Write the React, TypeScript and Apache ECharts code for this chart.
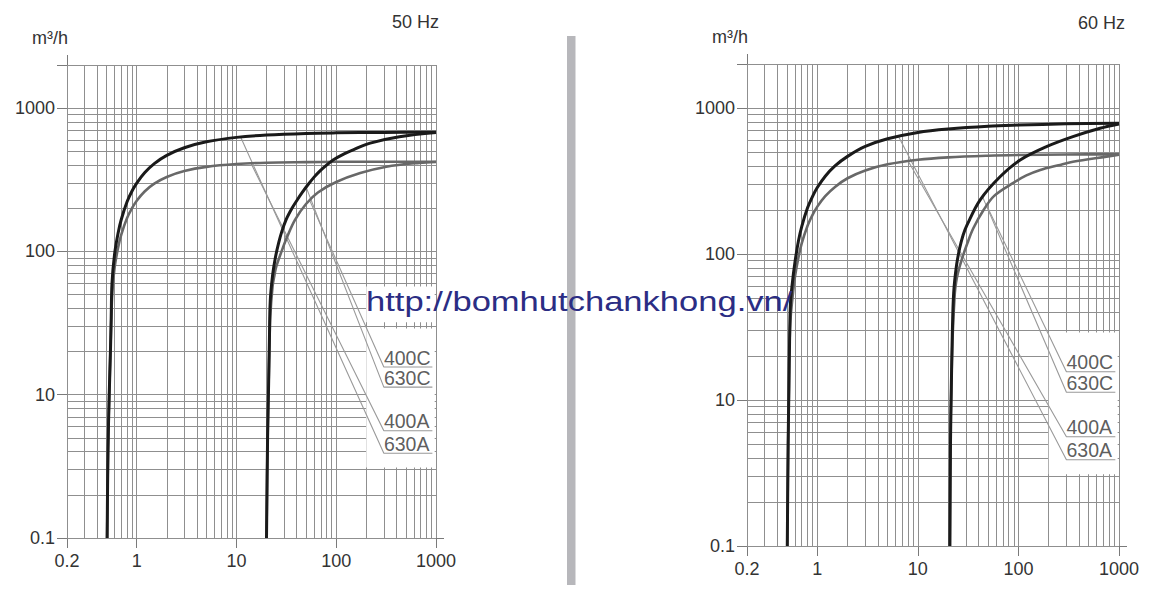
import React, { useEffect, useRef } from "react";
import * as echarts from "echarts";

// ---------- axis ticks / labels ----------
const xTickValues = [0.2, 1, 10, 100, 1000];
const xTickLabels = ["0.2", "1", "10", "100", "1000"];
const yTickValues = [1, 10, 100, 1000];
const yTickLabels = ["0.1", "10", "100", "1000"];
const yTickMarks = [1, 10, 100, 1000, 2000];

// log-paper grid lines
const xGridValues = [
  0.2, 0.3, 0.4, 0.5, 0.6, 0.7, 0.8, 0.9,
  1, 2, 3, 4, 5, 6, 7, 8, 9,
  10, 20, 30, 40, 50, 60, 70, 80, 90,
  100, 200, 300, 400, 500, 600, 700, 800, 900, 1000,
];
const yGridValues = [
  1, 2, 3, 4, 5, 6, 7, 8, 9,
  10, 20, 30, 40, 50, 60, 70, 80, 90,
  100, 200, 300, 400, 500, 600, 700, 800, 900,
  1000, 2000,
];

// ---------- 50 Hz curves ----------
const hz50_630A = [
  [0.505, 1], [0.515, 4], [0.53, 10], [0.545, 20], [0.555, 35], [0.565, 60], [0.6, 96],
  [0.65, 134], [0.7, 167], [0.8, 222], [0.9, 265], [1.0, 300], [1.2, 354], [1.5, 410],
  [2, 468], [3, 529], [5, 582], [10, 625], [20, 649], [50, 666], [100, 672], [300, 677],
  [1000, 679],
];
const hz50_400A = [
  [0.505, 1], [0.515, 4], [0.53, 10], [0.545, 20], [0.555, 32], [0.57, 52], [0.6, 77],
  [0.65, 106], [0.7, 131], [0.8, 171], [0.9, 201], [1.0, 226], [1.2, 262], [1.5, 297],
  [2, 331], [3, 364], [5, 389], [10, 407], [20, 416], [50, 420], [100, 422], [1000, 423],
];
const hz50_630C = [
  [20, 1], [20.5, 5], [21, 12], [21.4, 25], [21.8, 45], [23, 68], [24.5, 90], [26.5, 115],
  [28.5, 138], [31.6, 168], [36, 200], [40, 225], [46, 260], [52, 292], [60, 330], [68, 362],
  [80, 400], [93, 435], [120, 480], [148, 512], [219, 570], [430, 631], [1000, 675],
];
const hz50_400C = [
  [20, 1], [20.5, 5], [21, 12], [21.4, 22], [21.8, 35], [23, 57], [24, 68], [25, 78],
  [28.3, 100], [32, 125], [38.6, 166], [50, 215], [65.5, 258], [100, 305], [174, 352],
  [318, 390], [680, 415], [1000, 421],
];

// ---------- 60 Hz curves ----------
const hz60_630A = [
  [0.503, 1], [0.513, 5], [0.522, 12], [0.53, 25], [0.54, 45], [0.56, 60], [0.6, 88],
  [0.65, 123], [0.7, 154], [0.8, 207], [0.9, 249], [1.0, 285], [1.2, 341], [1.5, 401],
  [2, 466], [3, 545], [5, 615], [10, 680], [20, 718], [50, 750], [100, 763], [300, 778],
  [1000, 785],
];
const hz60_400A = [
  [0.503, 1], [0.513, 5], [0.522, 12], [0.53, 25], [0.545, 38], [0.57, 52], [0.6, 70],
  [0.65, 95], [0.7, 118], [0.8, 156], [0.9, 186], [1.0, 211], [1.2, 249], [1.5, 288],
  [2, 330], [3, 373], [5, 411], [10, 442], [20, 459], [50, 471], [100, 476], [300, 480],
  [1000, 481],
];
const hz60_630C = [
  [20.8, 1], [21.1, 5], [21.5, 12], [22, 28], [22.7, 54], [24.2, 83], [26, 109], [28.2, 135],
  [30.7, 157], [41.5, 234], [66, 339], [104, 440], [190, 543], [348, 636], [648, 726],
  [1000, 777],
];
const hz60_400C = [
  [20.8, 1], [21.1, 5], [21.5, 12], [22.2, 28], [23.3, 54], [24, 64], [25, 74], [27.5, 93],
  [31, 118], [35.6, 150], [45, 200], [57.4, 250], [89.8, 308], [120, 345], [165, 376],
  [250, 405], [348, 428], [750, 464], [1000, 478],
];

// ---------- leader labels ----------
const curveNames = ["400C", "630C", "400A", "630A"];
const labelY = [15.6, 11.3, 5.6, 3.9];
const labelX = [300, 920];
// leader start points on the curves (same order as curveNames)
const hz50_leaderStart = [[54, 228], [50, 280], [14, 410], [11, 628]];
const hz60_leaderStart = [[48.5, 214], [44, 246], [8, 433], [6.4, 640]];
// white label box on the grid (x range, y range)
const boxX = [200, 970];
const boxY = [3.1, 29];
const hz50_extraBoxY = [32, 57];

const FONT = "'Liberation Sans', Arial, Helvetica, sans-serif";
const GRID_COLOR = "#8f8f8f";
const AXIS_COLOR = "#7a7a7a";
const TEXT_COLOR = "#333";

function buildPanel(
  idx: number,
  curves: { name: string; data: number[][]; color: string; width: number }[],
  leaderStart: number[][],
  extraBoxes: number[][]
) {
  const xAxes: any[] = [
    {
      type: "log",
      gridIndex: idx,
      logBase: 10,
      min: 0.2,
      max: 1000,
      axisLine: { show: true, onZero: false, lineStyle: { color: AXIS_COLOR, width: 1 } },
      axisTick: { show: true, length: 10, customValues: xTickValues, lineStyle: { color: AXIS_COLOR } },
      axisLabel: {
        customValues: xTickValues,
        margin: 14,
        fontSize: 18,
        color: TEXT_COLOR,
        fontFamily: FONT,
        formatter: (v: number) => {
          const i = xTickValues.findIndex((t) => Math.abs(t - v) < 1e-9 * Math.max(1, t));
          return i >= 0 ? xTickLabels[i] : "";
        },
      },
      splitLine: { show: false },
    },
    {
      type: "log",
      gridIndex: idx,
      position: "top",
      logBase: 10,
      min: 0.2,
      max: 1000,
      axisLine: { show: false },
      axisTick: { show: true, length: 10, customValues: [0.2], lineStyle: { color: AXIS_COLOR } },
      axisLabel: { show: false },
      splitLine: { show: false },
    },
  ];
  const yAxes: any[] = [
    {
      type: "log",
      gridIndex: idx,
      logBase: 10,
      min: 1,
      max: 2000,
      axisLine: { show: true, onZero: false, lineStyle: { color: AXIS_COLOR, width: 1 } },
      axisTick: { show: true, length: 10, customValues: yTickMarks, lineStyle: { color: AXIS_COLOR } },
      axisLabel: {
        customValues: yTickValues,
        margin: 12,
        fontSize: 18,
        color: TEXT_COLOR,
        fontFamily: FONT,
        formatter: (v: number) => {
          const i = yTickValues.findIndex((t) => Math.abs(t - v) < 1e-9 * Math.max(1, t));
          return i >= 0 ? yTickLabels[i] : "";
        },
      },
      splitLine: { show: false },
    },
    {
      type: "log",
      gridIndex: idx,
      position: "right",
      logBase: 10,
      min: 1,
      max: 2000,
      axisLine: { show: false },
      axisTick: { show: true, length: 8, customValues: [1], lineStyle: { color: AXIS_COLOR } },
      axisLabel: { show: false },
      splitLine: { show: false },
    },
  ];
  const xi = idx * 2;
  const yi = idx * 2;
  const series: any[] = [];
  // grid lines
  series.push({
    type: "line",
    xAxisIndex: xi,
    yAxisIndex: yi,
    data: [],
    silent: true,
    symbol: "none",
    markLine: {
      silent: true,
      z: 1,
      symbol: ["none", "none"],
      label: { show: false },
      emphasis: { disabled: true },
      lineStyle: { color: GRID_COLOR, width: 1, type: "solid" },
      data: [
        ...xGridValues.map((v) => ({ xAxis: v })),
        ...yGridValues.map((v) => ({ yAxis: v })),
      ],
    },
  });
  // white label box(es)
  const boxes = [[boxX[0], boxY[0], boxX[1], boxY[1]], ...extraBoxes.map((b) => [boxX[0], b[0], boxX[1], b[1]])];
  series.push({
    type: "line",
    xAxisIndex: xi,
    yAxisIndex: yi,
    data: [],
    silent: true,
    symbol: "none",
    markArea: {
      silent: true,
      z: 3,
      itemStyle: { color: "#ffffff", opacity: 1, borderWidth: 0 },
      label: { show: false },
      emphasis: { disabled: true },
      data: boxes.map((b) => [{ coord: [b[0], b[1]] }, { coord: [b[2], b[3]] }]),
    },
  });
  // leader lines
  curveNames.forEach((name, i) => {
    series.push({
      type: "line",
      name: "leader-" + name,
      xAxisIndex: xi,
      yAxisIndex: yi,
      z: 8,
      silent: true,
      symbol: "none",
      lineStyle: { color: "#999999", width: 1.1 },
      data: [leaderStart[i], [labelX[0], labelY[i]], [labelX[1], labelY[i]]],
    });
  });
  // labels
  series.push({
    type: "scatter",
    xAxisIndex: xi,
    yAxisIndex: yi,
    z: 12,
    silent: true,
    symbol: "circle",
    symbolSize: 0.1,
    itemStyle: { color: "rgba(0,0,0,0)" },
    label: {
      show: true,
      position: "right",
      distance: 0,
      offset: [0, -9.5],
      formatter: (p: any) => p.name,
      fontSize: 19.5,
      color: "#333333",
      fontFamily: FONT,
    },
    data: curveNames.map((n, i) => ({ name: n, value: [labelX[0], labelY[i]] })),
  });
  // curves
  curves.forEach((c) => {
    series.push({
      type: "line",
      name: c.name,
      xAxisIndex: xi,
      yAxisIndex: yi,
      z: 10,
      silent: true,
      symbol: "none",
      smooth: 0.35,
      lineStyle: { color: c.color, width: c.width },
      data: c.data,
    });
  });
  return { xAxes, yAxes, series };
}

const BLACK = "#1a1a1a";
const GRAY = "#686868";

export default function App() {
  const ref = useRef<HTMLDivElement>(null);
  useEffect(() => {
    if (!ref.current) return;
    const chart = echarts.init(ref.current, undefined, { renderer: "svg" });
    const p50 = buildPanel(
      0,
      [
        { name: "400A", data: hz50_400A, color: GRAY, width: 2.6 },
        { name: "400C", data: hz50_400C, color: GRAY, width: 2.6 },
        { name: "630A", data: hz50_630A, color: BLACK, width: 3 },
        { name: "630C", data: hz50_630C, color: BLACK, width: 3 },
      ],
      hz50_leaderStart,
      [hz50_extraBoxY]
    );
    const p60 = buildPanel(
      1,
      [
        { name: "400A", data: hz60_400A, color: GRAY, width: 2.6 },
        { name: "400C", data: hz60_400C, color: GRAY, width: 2.6 },
        { name: "630A", data: hz60_630A, color: BLACK, width: 3 },
        { name: "630C", data: hz60_630C, color: BLACK, width: 3 },
      ],
      hz60_leaderStart,
      []
    );
    const option: any = {
      animation: false,
      backgroundColor: "#ffffff",
      textStyle: { fontFamily: FONT },
      grid: [
        { left: 67, top: 65, width: 369, height: 473, containLabel: false },
        { left: 747, top: 64, width: 372, height: 482, containLabel: false },
      ],
      xAxis: [...p50.xAxes, ...p60.xAxes],
      yAxis: [...p50.yAxes, ...p60.yAxes],
      series: [...p50.series, ...p60.series],
      graphic: [
        {
          type: "rect",
          silent: true,
          shape: { x: 567, y: 36, width: 8.5, height: 549 },
          style: { fill: "#b7b7bb" },
        },
        {
          type: "text",
          silent: true,
          x: 50,
          y: 37.5,
          style: { text: "m³/h", fontSize: 18, fill: TEXT_COLOR, align: "center", verticalAlign: "middle", fontFamily: FONT },
        },
        {
          type: "text",
          silent: true,
          x: 415.5,
          y: 21.7,
          style: { text: "50 Hz", fontSize: 18, fill: TEXT_COLOR, align: "center", verticalAlign: "middle", fontFamily: FONT },
        },
        {
          type: "text",
          silent: true,
          x: 730,
          y: 37,
          style: { text: "m³/h", fontSize: 18, fill: TEXT_COLOR, align: "center", verticalAlign: "middle", fontFamily: FONT },
        },
        {
          type: "text",
          silent: true,
          x: 1101.5,
          y: 22.5,
          style: { text: "60 Hz", fontSize: 18, fill: TEXT_COLOR, align: "center", verticalAlign: "middle", fontFamily: FONT },
        },
        {
          type: "text",
          silent: true,
          z: 100,
          x: 366,
          y: 302,
          scaleX: 1.28,
          style: {
            text: "http://bomhutchankhong.vn/",
            fontSize: 27,
            fill: "#2b2d84",
            align: "left",
            verticalAlign: "middle",
            fontFamily: FONT,
          },
        },
      ],
    };
    chart.setOption(option);
    return () => chart.dispose();
  }, []);
  return (
    <div
      ref={ref}
      style={{ position: "fixed", left: 0, top: 0, width: 1163, height: 611, background: "#fff" }}
    />
  );
}
